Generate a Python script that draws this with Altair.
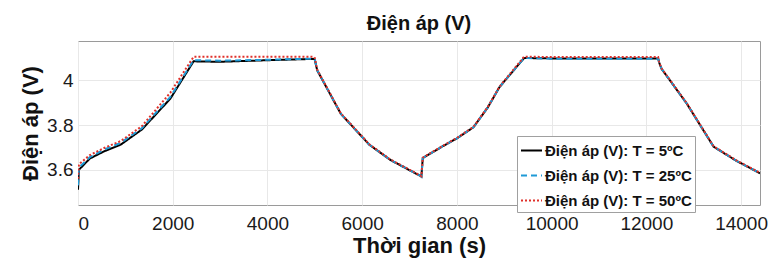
import altair as alt
import pandas as pd

# Time axis (s)
t = [0, 20, 250, 550, 900, 1350, 1950, 2440, 3000, 4000, 4980, 5000, 5050, 5550,
     6150, 6600, 7230, 7250, 7280, 7700, 8000, 8350, 8650, 8900, 9420, 10000,
     11000, 12250, 12270, 12320, 12850, 13420, 13900, 14400]

# Voltage (V) per temperature
v5 = [3.51, 3.600, 3.650, 3.682, 3.712, 3.780, 3.918, 4.085, 4.083, 4.090, 4.096, 4.092, 4.045, 3.850,
      3.712, 3.643, 3.572, 3.569, 3.652, 3.705, 3.740, 3.790, 3.878, 3.970, 4.100, 4.098,
      4.098, 4.098, 4.080, 4.052, 3.897, 3.703, 3.640, 3.584]
v25 = [3.53, 3.610, 3.656, 3.690, 3.720, 3.786, 3.926, 4.090, 4.088, 4.092, 4.097, 4.093, 4.046, 3.850,
       3.712, 3.643, 3.572, 3.569, 3.652, 3.705, 3.740, 3.790, 3.878, 3.970, 4.100, 4.097,
       4.097, 4.097, 4.080, 4.052, 3.897, 3.703, 3.640, 3.584]
v50 = [3.56, 3.625, 3.665, 3.697, 3.728, 3.795, 3.945, 4.105, 4.105, 4.105, 4.105, 4.100, 4.048, 3.852,
       3.714, 3.645, 3.574, 3.571, 3.654, 3.707, 3.742, 3.792, 3.880, 3.972, 4.106, 4.104,
       4.104, 4.104, 4.082, 4.054, 3.899, 3.705, 3.642, 3.586]

names = ["Điện áp (V): T = 5ºC", "Điện áp (V): T = 25ºC", "Điện áp (V): T = 50ºC"]
colors = ["#000000", "#1f9ad6", "#e0302a"]
dashes = [[1, 0], [6, 4], [2, 2]]
x_ticks = [0, 2000, 4000, 6000, 8000, 10000, 12000, 14000]
y_ticks = [3.6, 3.8, 4.0]

rows = []
for name, vals in zip(names, [v5, v25, v50]):
    for ti, vi in zip(t, vals):
        rows.append({"t": ti, "v": vi, "series": name})
df = pd.DataFrame(rows)

FONT = "Liberation Sans"

x = alt.X("t:Q", scale=alt.Scale(domain=[0, 14400], nice=False, zero=False),
          axis=alt.Axis(values=x_ticks, format="d", title="Thời gian (s)",
                        labelPadding=9, titlePadding=2))
y = alt.Y("v:Q", scale=alt.Scale(domain=[3.442, 4.176], nice=False, zero=False),
          axis=alt.Axis(values=y_ticks, format=".1~f", title="Điện áp (V)",
                        labelPadding=5, titlePadding=4))
color = alt.Color("series:N", scale=alt.Scale(domain=names, range=colors),
                  legend=alt.Legend(title=None, orient="none", legendX=439, legendY=95))
dash = alt.StrokeDash("series:N", scale=alt.Scale(domain=names, range=dashes),
                      legend=alt.Legend(title=None, orient="none", legendX=439, legendY=95))

layers = []
for name in names:
    layers.append(
        alt.Chart(df).transform_filter(alt.datum.series == name)
        .mark_line(strokeWidth=2, clip=True)
        .encode(x=x, y=y, color=color, strokeDash=dash)
    )

chart = alt.layer(*layers).properties(
    width=682, height=164,
    title=alt.Title("Điện áp (V)", fontSize=20, font=FONT, fontWeight="bold",
                    anchor="middle", offset=7, color="#111111"),
    autosize=alt.AutoSizeParams(type="none"),
    padding={"left": 70, "top": 33, "right": 8, "bottom": 56},
).configure_view(
    stroke="#9a9a9a", strokeWidth=1
).configure_axis(
    domain=False, ticks=False, grid=True, gridColor="#e8e8e8", gridWidth=1,
    labelFont=FONT, labelFontSize=19, labelColor="#1a1a1a",
    titleFont=FONT, titleFontSize=22, titleFontWeight="bold", titleColor="#111111",
).configure_legend(
    fillColor="white", strokeColor="#a0a0a0", padding=3, cornerRadius=0,
    labelFont=FONT, labelFontSize=15, labelFontWeight="bold", labelColor="#111111",
    labelLimit=400, labelOffset=2, symbolType="stroke", symbolSize=441,
    symbolStrokeWidth=2, rowPadding=5,
)

chart.save("out.html", embed_options={"renderer": "svg", "actions": False})
